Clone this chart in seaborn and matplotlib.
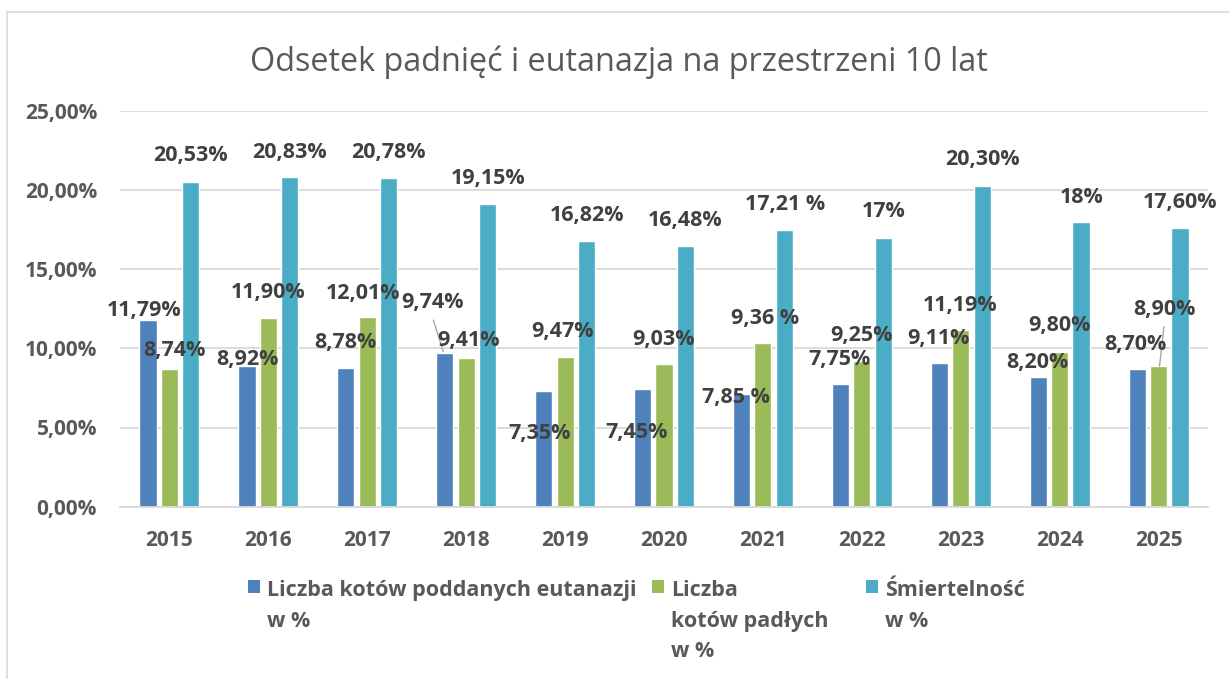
import pandas as pd
import matplotlib.pyplot as plt
from matplotlib.patches import Patch
import seaborn as sns

# Dane (wysokości słupków w %)
years = ['2015', '2016', '2017', '2018', '2019', '2020', '2021', '2022', '2023', '2024', '2025']
series = ['Liczba kotów poddanych eutanazji\nw %',
          'Liczba\nkotów padłych\nw %',
          'Śmiertelność\nw %']
eutanazja = [11.79, 8.90, 8.78, 9.70, 7.30, 7.43, 7.10, 7.73, 9.07, 8.19, 8.67]
padle = [8.71, 11.89, 12.00, 9.41, 9.45, 9.01, 10.33, 9.22, 11.17, 9.77, 8.88]
smiertelnosc = [20.52, 20.81, 20.75, 19.13, 16.79, 16.48, 17.45, 16.98, 20.27, 17.97, 17.60]

# Etykiety danych (tak jak wpisane na wykresie)
lab_eutanazja = ['11,79%', '8,92%', '8,78%', '9,74%', '7,35%', '7,45%', '7,85 %', '7,75%', '9,11%', '8,20%', '8,70%']
lab_padle = ['8,74%', '11,90%', '12,01%', '9,41%', '9,47%', '9,03%', '9,36 %', '9,25%', '11,19%', '9,80%', '8,90%']
lab_smiertelnosc = ['20,53%', '20,83%', '20,78%', '19,15%', '16,82%', '16,48%', '17,21 %', '17%', '20,30%', '18%', '17,60%']

# Położenie etykiet (przesunięcie x od środka kategorii, y w %)
pos_eutanazja = [(-0.258, 12.37), (-0.209, 9.30), (-0.226, 10.35), (-0.339, 12.90), (-0.26, 4.59),
                 (-0.277, 4.67), (-0.271, 6.91), (-0.23, 9.30), (-0.226, 10.63), (-0.225, 9.09), (-0.23, 10.25)]
pos_padle = [(0.046, 9.85), (-0.007, 13.51), (-0.04, 13.43), (0.021, 10.48), (-0.03, 11.09),
             (-0.006, 10.57), (0.023, 11.89), (0.0, 10.78), (-0.003, 12.73), (0.0, 11.43), (0.055, 12.48)]
pos_smiertelnosc = [(0.215, 22.2), (0.211, 22.37), (0.21, 22.37), (0.217, 20.73), (0.22, 18.37),
                    (0.217, 18.06), (0.225, 19.05), (0.217, 18.63), (0.225, 21.89), (0.222, 19.53), (0.217, 19.19)]

colors = ['#4F81BD', '#9BBB59', '#4BACC6']

df = pd.DataFrame({
    'rok': years * 3,
    'seria': [series[0]] * 11 + [series[1]] * 11 + [series[2]] * 11,
    'wartosc': eutanazja + padle + smiertelnosc,
})

sns.set_style('white')
plt.rcParams['font.family'] = ['Open Sans', 'DejaVu Sans']

fig = plt.figure(figsize=(12.29, 6.79), dpi=100)
ax = fig.add_axes([120 / 1229, 1 - 506.7 / 679, 1088 / 1229, 396 / 679])

sns.barplot(data=df, x='rok', y='wartosc', hue='seria', palette=colors,
            width=0.65, gap=0.2, legend=False, ax=ax, saturation=1)

ax.set_xlim(-0.5, 10.5)
ax.set_ylim(0, 25)
ax.set_yticks([0, 5, 10, 15, 20, 25])
ax.set_yticklabels(['0,00%', '5,00%', '10,00%', '15,00%', '20,00%', '25,00%'])
ax.grid(axis='y', color='#D9D9D9', linewidth=1.3)
ax.set_axisbelow(True)
for s in ['left', 'right', 'top']:
    ax.spines[s].set_visible(False)
ax.spines['bottom'].set_color('#D9D9D9')
ax.spines['bottom'].set_linewidth(1.3)
ax.tick_params(length=0)
ax.tick_params(axis='y', pad=16.5)
ax.tick_params(axis='x', pad=17)
for t in ax.get_xticklabels() + ax.get_yticklabels():
    t.set_fontsize(15)
    t.set_fontweight('bold')
    t.set_color('#595959')
ax.set_xlabel('')
ax.set_ylabel('')

# Etykiety danych
for labels, pos in [(lab_eutanazja, pos_eutanazja), (lab_padle, pos_padle), (lab_smiertelnosc, pos_smiertelnosc)]:
    for i, (lab, (dx, y)) in enumerate(zip(labels, pos)):
        ax.text(i + dx, y, lab, ha='center', va='center', fontsize=15.5,
                fontweight='bold', color='#404040')

# Linie odniesienia
ax.plot([3 - 0.332, 3 - 0.231], [11.78, 9.78], color='#A6A6A6', linewidth=1)
ax.plot([10 + 0.055, 10 + 0.010], [11.36, 8.88], color='#A6A6A6', linewidth=1)

fig.text(619 / 1229, 1 - 62 / 679, 'Odsetek padnięć i eutanazja na przestrzeni 10 lat',
         ha='center', va='center', fontsize=23.3, color='#595959')

# Legenda
leg_x = [248, 652, 866]
for name, col, lx in zip(series, colors, leg_x):
    leg = fig.legend(handles=[Patch(facecolor=col, edgecolor='none')], labels=[name],
                     loc='upper left', bbox_to_anchor=(lx / 1229, 1 - 580 / 679),
                     frameon=False, borderpad=0, borderaxespad=0,
                     handlelength=0.55, handleheight=0.55, handletextpad=0.35,
                     prop={'size': 15.5, 'weight': 'bold'})
    for t in leg.get_texts():
        t.set_color('#595959')
        t.set_linespacing(1.6)
    for col_box in leg._legend_handle_box.get_children():
        for row in col_box.get_children():
            row.align = 'top'

# Ramka wykresu
fig.add_artist(plt.Line2D([7 / 1229, 1], [1 - 12 / 679, 1 - 12 / 679], color='#D9D9D9', linewidth=1.2))
fig.add_artist(plt.Line2D([7 / 1229, 7 / 1229], [0, 1 - 12 / 679], color='#D9D9D9', linewidth=1.2))

fig.savefig('out.png', dpi=100)
